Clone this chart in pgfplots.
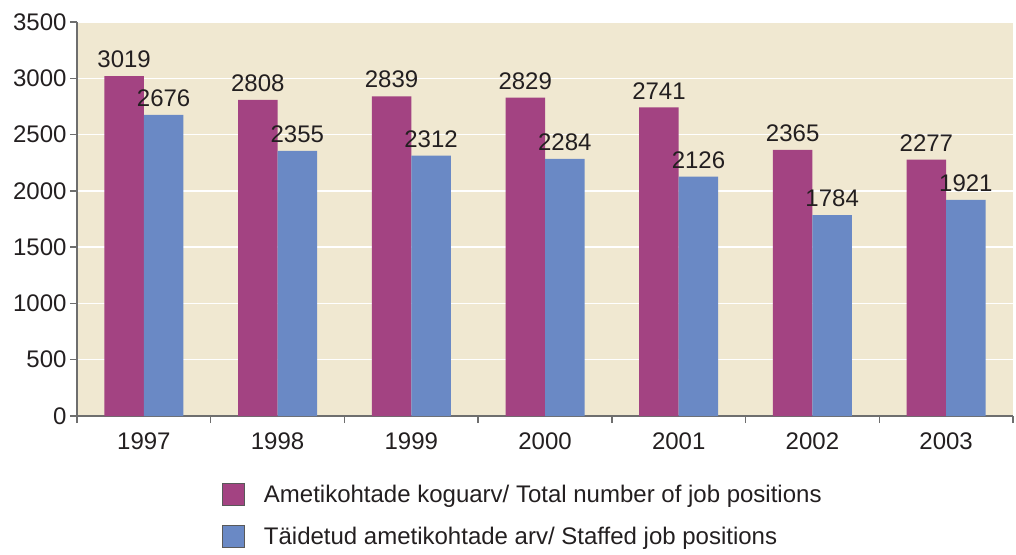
\documentclass[border=0pt]{standalone}
\usepackage{fontspec}
\setmainfont{Liberation Sans}
\usepackage{pgfplots}
\pgfplotsset{compat=1.18}
\definecolor{bgbeige}{HTML}{F0E8D1}
\definecolor{barmag}{HTML}{A34382}
\definecolor{barblue}{HTML}{6A89C5}
\definecolor{axgray}{HTML}{6E6E6E}
\definecolor{txt}{HTML}{231F20}

\begin{document}
\begin{tikzpicture}
\begin{axis}[
  scale only axis,
  width=936pt, height=394pt,
  ybar=0pt, bar width=39.5pt,
  xmin=-0.5, xmax=6.5, ymin=0, ymax=3500,
  ytick={0,500,...,3500},
  xtick={0,...,6},
  xticklabels={1997,1998,1999,2000,2001,2002,2003},
  minor xtick={-0.5,0.5,...,6.5},
  axis x line*=bottom, axis y line*=left,
  axis line style={axgray, line width=1.5pt, -},
  major tick length=7pt, minor tick length=7pt,
  tick align=outside,
  x tick style={draw=none},
  minor x tick style={draw=axgray, line width=1.5pt},
  y tick style={draw=axgray, line width=1.5pt},
  ymajorgrids, grid style={white, line width=1.5pt},
  axis background/.style={fill=bgbeige},
  tick label style={font=\fontsize{24}{28}\selectfont, text=txt},
  /pgf/number format/assume math mode=true,
  /pgf/number format/1000 sep={},
  xticklabel style={yshift=-6pt},
  nodes near coords,
  every node near coord/.append style={font=\fontsize{24}{28}\selectfont, text=txt, inner sep=5pt, yshift=3pt},
  legend cell align=left,
  legend style={at={(0.151,-0.165)}, anchor=north west, draw=none, fill=none,
    font=\fontsize{24}{28}\selectfont, text=txt, row sep=19pt},
  legend image code/.code={\draw[#1, draw=black!65, line width=0.8pt] (0pt,-11pt) rectangle (22pt,11pt); \path (40pt,0pt);},
]
\coordinate (O) at (rel axis cs:0,0);
\addplot[fill=barmag, draw=none] coordinates {(0,3019) (1,2808) (2,2839) (3,2829) (4,2741) (5,2365) (6,2277)};
\addlegendentry{Ametikohtade koguarv/ Total number of job positions}
\addplot[fill=barblue, draw=none] coordinates {(0,2676) (1,2355) (2,2312) (3,2284) (4,2126) (5,1784) (6,1921)};
\addlegendentry{Täidetud ametikohtade arv/ Staffed job positions}
\end{axis}
\pgfresetboundingbox
\path[use as bounding box] ([shift={(-77pt,-138pt)}]O) rectangle ([shift={(939pt,416pt)}]O);
\end{tikzpicture}
\end{document}
